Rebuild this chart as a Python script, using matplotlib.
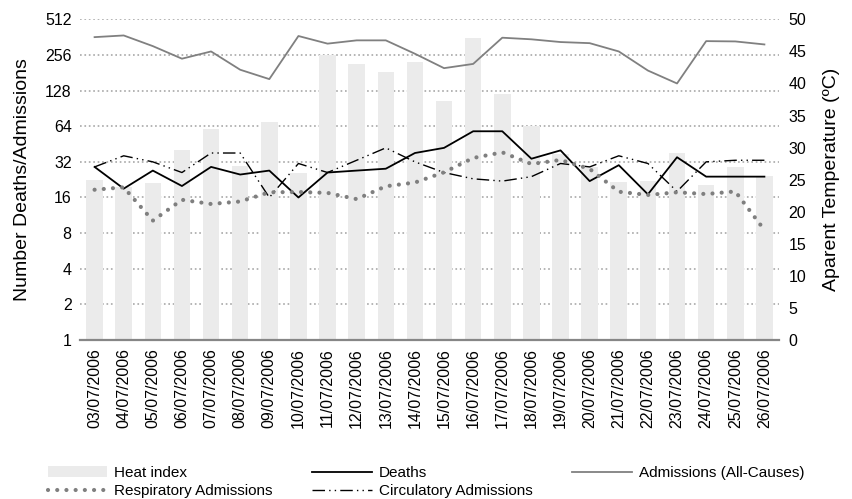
import numpy as np
import matplotlib.pyplot as plt
from matplotlib.ticker import NullLocator

plt.rcParams['font.family'] = ['Liberation Sans', 'DejaVu Sans']

# dates (July 2006)
dates = ['03/07/2006', '04/07/2006', '05/07/2006', '06/07/2006', '07/07/2006', '08/07/2006',
         '09/07/2006', '10/07/2006', '11/07/2006', '12/07/2006', '13/07/2006', '14/07/2006',
         '15/07/2006', '16/07/2006', '17/07/2006', '18/07/2006', '19/07/2006', '20/07/2006',
         '21/07/2006', '22/07/2006', '23/07/2006', '24/07/2006', '25/07/2006', '26/07/2006']

# apparent temperature (right axis)
heat_index = [25.0, 23.8, 24.5, 29.6, 32.9, 27.2, 34.0, 26.1, 44.5, 43.0, 41.8, 43.3,
              37.3, 47.1, 38.3, 33.3, 29.0, 26.9, 24.7, 24.8, 29.2, 24.2, 27.0, 25.6]

# counts (left axis, log2)
deaths = [29, 19, 27, 20, 29, 25, 27, 16, 26, 27, 28, 38,
          42, 58, 58, 34, 40, 22, 30, 17, 35, 24, 24, 24]
admissions = [362, 374, 304, 238, 274, 192, 160, 370, 319, 340, 340, 262,
              198, 215, 358, 347, 329, 322, 274, 189, 147, 335, 333, 314]
respiratory = [18.6, 19.5, 10.2, 15.3, 14.1, 14.8, 17.7, 17.8, 17.5, 15.5, 19.9, 21.4,
               26.1, 34.5, 38.5, 30.7, 33.2, 27.9, 17.9, 16.8, 17.7, 17.1, 18.0, 8.5]
circulatory = [29, 36, 32, 26, 38, 38, 16, 31, 26, 33, 42, 32,
               26, 23, 22, 24, 31, 29, 36, 31, 18, 32, 33, 33]

left_ticks = [1, 2, 4, 8, 16, 32, 64, 128, 256, 512]
right_ticks = [0, 5, 10, 15, 20, 25, 30, 35, 40, 45, 50]

x = np.arange(len(dates))
fs = 11.5
rect = [0.0938, 0.3186, 0.8194, 0.6427]

fig = plt.figure(figsize=(8.53, 4.99), dpi=100)

# bottom layer: log2 axis with grid, left ticks and date labels
ax_g = fig.add_axes(rect)
ax_g.set_yscale('log', base=2)
ax_g.set_ylim(1, 512)
ax_g.set_xlim(-0.5, len(dates) - 0.5)
ax_g.set_yticks(left_ticks, labels=[str(t) for t in left_ticks])
ax_g.yaxis.set_minor_locator(NullLocator())
ax_g.set_xticks(x)
ax_g.set_xticklabels(dates, rotation=90, fontsize=fs)
ax_g.tick_params(which='both', length=0)
ax_g.tick_params(axis='y', labelsize=fs, pad=6)
ax_g.tick_params(axis='x', pad=6)
ax_g.grid(True, axis='y', which='major', color='#a8a8a8', linestyle=':', linewidth=1.2)
ax_g.set_ylabel('Number Deaths/Admissions', fontsize=14, labelpad=10)
for s in ax_g.spines.values():
    s.set_visible(False)

# middle layer: heat index bars on the temperature axis
ax_t = ax_g.twinx()
ax_t.patch.set_visible(False)
bars = ax_t.bar(x, heat_index, width=0.57, color='#ebebeb')
ax_t.set_ylim(0, 50)
ax_t.set_yticks(right_ticks)
ax_t.tick_params(which='both', length=0)
ax_t.tick_params(axis='y', labelsize=fs, pad=7)
ax_t.set_ylabel('Aparent Temperature (ºC)', fontsize=14, labelpad=12)
for s in ['top', 'left', 'right']:
    ax_t.spines[s].set_visible(False)
ax_t.spines['bottom'].set_color('#868686')
ax_t.spines['bottom'].set_linewidth(1.6)

# top layer: the count lines
ax_l = fig.add_axes(rect, sharex=ax_g, sharey=ax_g)
ax_l.patch.set_visible(False)
ax_l.axis('off')

l_adm, = ax_l.plot(x, admissions, color='#808080', lw=1.3)
l_dea, = ax_l.plot(x, deaths, color='black', lw=1.3)
l_cir, = ax_l.plot(x, circulatory, color='black', lw=1.0,
                   linestyle=(0, (9, 3, 1, 3, 1, 3)))
l_res, = ax_l.plot(x, respiratory, color='#7f7f7f', lw=3.0,
                   linestyle=(0, (0.01, 2.2)), dash_capstyle='round')

handles = [bars, l_res, l_dea, l_cir, l_adm]
labels = ['Heat index', 'Respiratory Admissions', 'Deaths',
          'Circulatory Admissions', 'Admissions (All-Causes)']
fig.legend(handles, labels, loc='upper left', bbox_to_anchor=(0.056, 0.066),
           ncol=3, frameon=False, fontsize=11, handlelength=3.9,
           handletextpad=0.45, columnspacing=2.6, labelspacing=0.25,
           borderpad=0, borderaxespad=0)

fig.savefig('out.png', dpi=100)
